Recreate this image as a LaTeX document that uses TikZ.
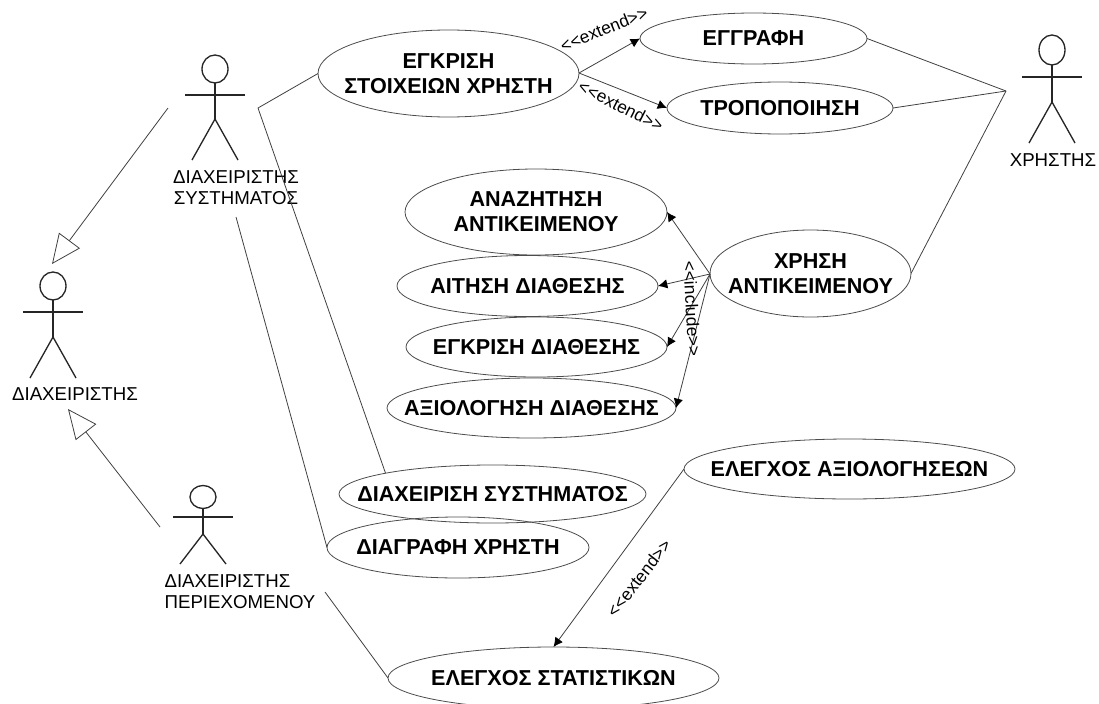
\documentclass[tikz,border=0pt]{standalone}
\usepackage{fontspec}
\setmainfont{Liberation Sans}
\usetikzlibrary{arrows.meta}
\usetikzlibrary{shapes.geometric}
\tikzstyle{usecase}=[draw=black!70, ellipse, inner xsep=-20pt, inner ysep=0pt, outer sep=0pt, semithick, align=center, font=\fontsize{16.2}{18.75}\selectfont\bfseries]
\tikzstyle{relation}=[black!75, semithick]
\tikzstyle{extends}=[relation, -{Latex[length=7pt, width=7pt, black]}]
\tikzstyle{generalizes}=[relation, -{Triangle[open, length=22pt, width=19.5pt]}]
\tikzstyle{stereotype}=[inner sep=0pt, font=\fontsize{13}{15}\selectfont]
\tikzstyle{actor label}=[inner sep=0pt, font=\fontsize{14}{15.75}\selectfont]
\tikzstyle{limb}=[line width=1pt, black!85]
\tikzset{sized/.style 2 args={minimum width=#1*0.75pt, minimum height=#2*0.75pt}}
\newcommand{\actorfig}[7]{%
  \node[draw=black!85, line width=1pt, ellipse, inner sep=0pt, outer sep=0pt, sized={26}{#4}] (#1) at (#2, #3) {};
  \coordinate (#1_arm) at (#2, #5);
  \coordinate (#1_hip) at (#2, #6);
  \draw[limb] (#1.south) -- (#1_hip);
  \draw[limb] (#1_arm) ++(-30, 0) -- ++(60, 0);
  \draw[limb] (#2 - 23, #7) -- (#1_hip) -- (#2 + 23, #7);
}

\begin{document}
\begin{tikzpicture}[x=0.75pt, y=-0.75pt]
      \useasboundingbox (0, 0) rectangle (1099, 703);
      \actorfig{admin}{53}{286}{28}{312}{337}{378}
      \actorfig{sysadmin}{215}{69}{28}{95}{119}{160}
      \actorfig{contentadmin}{203}{497}{23}{517}{534}{564}
      \actorfig{user}{1052}{50}{30}{77}{102}{143}

      \node[actor label] (admin_label) at (75, 394) {ΔΙΑΧΕΙΡΙΣΤΗΣ};
      \node[actor label, align=center] (sysadmin_label) at (236, 188) {ΔΙΑΧΕΙΡΙΣΤΗΣ\\ΣΥΣΤΗΜΑΤΟΣ};
      \node[actor label, align=left] (contentadmin_label) at (240, 592) {ΔΙΑΧΕΙΡΙΣΤΗΣ\\ΠΕΡΙΕΧΟΜΕΝΟΥ};
      \node[actor label] (user_label) at (1053, 160) {ΧΡΗΣΤΗΣ};

      \node[usecase, sized={261}{87}] (approve_user) at (448.5, 73.5) {ΕΓΚΡΙΣΗ\\ΣΤΟΙΧΕΙΩΝ ΧΡΗΣΤΗ};
      \node[usecase, sized={227}{51}] (register) at (753.5, 38.5) {ΕΓΓΡΑΦΗ};
      \node[usecase, sized={226}{52}] (modify) at (780, 108) {ΤΡΟΠΟΠΟΙΗΣΗ};
      \node[usecase, sized={262}{86}] (search) at (536, 212) {ΑΝΑΖΗΤΗΣΗ\\ΑΝΤΙΚΕΙΜΕΝΟΥ};
      \node[usecase, sized={261}{61}] (request) at (527.5, 286) {ΑΙΤΗΣΗ ΔΙΑΘΕΣΗΣ};
      \node[usecase, sized={261}{60}] (approve) at (536.5, 347) {ΕΓΚΡΙΣΗ ΔΙΑΘΕΣΗΣ};
      \node[usecase, sized={289}{60}] (evaluate) at (531.5, 408) {ΑΞΙΟΛΟΓΗΣΗ ΔΙΑΘΕΣΗΣ};
      \node[usecase, sized={201}{87}] (use) at (810.5, 273.5) {ΧΡΗΣΗ\\ΑΝΤΙΚΕΙΜΕΝΟΥ};
      \node[usecase, sized={297}{58}] (manage) at (492.5, 494) {ΔΙΑΧΕΙΡΙΣΗ ΣΥΣΤΗΜΑΤΟΣ};
      \node[usecase, sized={262}{61}] (delete) at (458, 547.5) {ΔΙΑΓΡΑΦΗ ΧΡΗΣΤΗ};
      \node[usecase, sized={331}{60}] (check_eval) at (849.5, 469) {ΕΛΕΓΧΟΣ ΑΞΙΟΛΟΓΗΣΕΩΝ};
      \node[usecase, sized={331}{62}] (check_stats) at (553.5, 678) {ΕΛΕΓΧΟΣ ΣΤΑΤΙΣΤΙΚΩΝ};

      \coordinate (sysadmin_out) at (258, 108);
      \coordinate (sysadmin_low) at (236, 217);
      \coordinate (user_in) at (1006, 91);
      \coordinate (contentadmin_out) at (325, 592);
      \coordinate (sysadmin_gen) at (168, 108);
      \coordinate (contentadmin_gen) at (160, 527);
      \coordinate (admin_top) at (52, 264);
      \coordinate (admin_bottom) at (68, 409);
      \coordinate (approve_out) at (579, 73);
      \coordinate (use_out) at (710, 274);

      \draw[relation] (approve_user.west) -- (sysadmin_out) -- (manage.169);
      \draw[relation] (sysadmin_low) -- (delete.west);
      \draw[relation] (register.east) -- (user_in);
      \draw[relation] (modify.east) -- (user_in);
      \draw[relation] (use.east) -- (user_in);
      \draw[relation] (contentadmin_out) -- (check_stats.west);

      \draw[generalizes] (sysadmin_gen) -- (admin_top);
      \draw[generalizes] (contentadmin_gen) -- (admin_bottom);

      \draw[extends] (approve_out) -- (register.west);
      \draw[extends] (approve_out) -- (modify.west);
      \draw[extends] (use_out) -- (search.east);
      \draw[extends] (use_out) -- (request.east);
      \draw[extends] (use_out) -- (approve.east);
      \draw[extends] (use_out) -- (evaluate.east);
      \draw[extends] (check_eval.west) -- (check_stats.north);

      \node[stereotype, rotate=22] (extend_a) at (604, 29) {<{}<extend>{}>};
      \node[stereotype, rotate=-27] (extend_b) at (621, 106) {<{}<extend>{}>};
      \node[stereotype, rotate=-87] (include_a) at (692, 309) {<{}<include>{}>};
      \node[stereotype, rotate=52] (extend_c) at (639, 578) {<{}<extend>{}>};
    \end{tikzpicture}
\end{document}
